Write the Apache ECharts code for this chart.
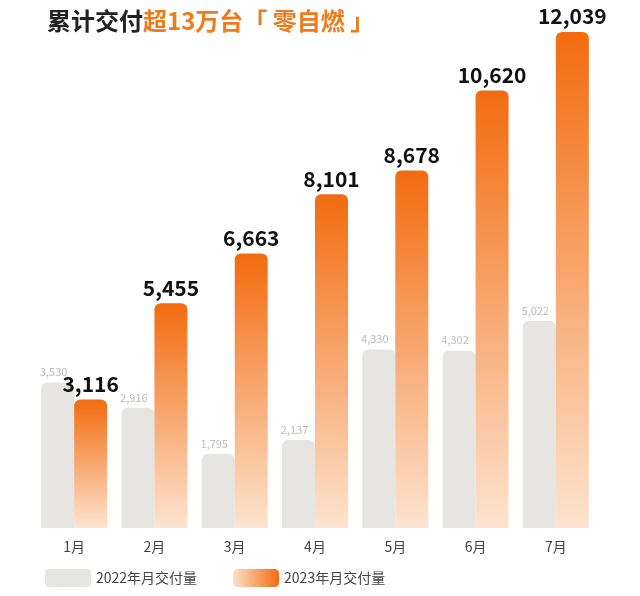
<!DOCTYPE html><html><head><meta charset="utf-8">
<script src="https://cdn.jsdelivr.net/npm/echarts@6/dist/echarts.min.js"></script>
<style>body{margin:0;background:#fff}#c{width:640px;height:596px}</style></head><body><div id="c"></div>
<script>
const categories=['1月','2月','3月','4月','5月','6月','7月'];
const data2022=[3530,2916,1795,2137,4330,4302,5022];
const data2023=[3116,5455,6663,8101,8678,10620,12039];
const fmt=v=>v.toLocaleString('en-US');
const c=echarts.init(document.getElementById('c'));
c.setOption({
 backgroundColor:'#fff',
 textStyle:{fontFamily:'Noto Sans CJK SC'},
 title:{left:42,top:4,text:'{a|累计交付}{b|超13万台「 零自燃 」}',textStyle:{rich:{
  a:{fontSize:24,fontWeight:'bold',color:'#222',fontFamily:'Noto Sans CJK SC'},
  b:{fontSize:24,fontWeight:'bold',color:'#f07a1a',fontFamily:'Noto Sans CJK SC'}}}},
 legend:{bottom:4,left:40,itemWidth:46,itemHeight:18,itemGap:36,textStyle:{color:'#444',fontSize:14},
  data:[{name:'2022年月交付量',itemStyle:{color:'#e6e5e2'}},
        {name:'2023年月交付量',itemStyle:{color:new echarts.graphic.LinearGradient(0,0,1,0,[{offset:0,color:'#fde0c8'},{offset:1,color:'#f26b0f'}])}}]},
 grid:{left:34,right:44,top:32,bottom:68},
 xAxis:{type:'category',data:categories,axisLine:{show:false},axisTick:{show:false},
  axisLabel:{color:'#444',fontSize:14,margin:12}},
 yAxis:{type:'value',show:false,min:0,max:12039},
 series:[
  {name:'2022年月交付量',type:'bar',data:data2022,barWidth:33,barGap:'0%',
   itemStyle:{color:'#e6e5e2',borderRadius:[6,6,0,0]},
   label:{show:true,position:'top',formatter:p=>fmt(p.value),color:'#bbb',fontSize:11,offset:[-4,0]}},
  {name:'2023年月交付量',type:'bar',data:data2023,barWidth:33,
   itemStyle:{borderRadius:[6,6,0,0],color:new echarts.graphic.LinearGradient(0,0,0,1,[{offset:0,color:'#f26b0f'},{offset:1,color:'#fde4d0'}])},
   label:{show:true,position:'top',formatter:p=>fmt(p.value),color:'#111',fontSize:21,fontWeight:'bold'}}
 ]
});
</script></body></html>
